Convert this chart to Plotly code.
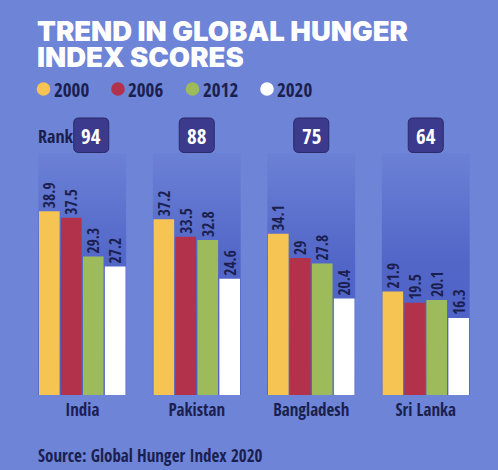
import plotly.graph_objects as go

countries = ["India", "Pakistan", "Bangladesh", "Sri Lanka"]
ranks = ["94", "88", "75", "64"]
years = ["2000", "2006", "2012", "2020"]
scores_2000 = [38.9, 37.2, 34.1, 21.9]
scores_2006 = [37.5, 33.5, 29, 19.5]
scores_2012 = [29.3, 32.8, 27.8, 20.1]
scores_2020 = [27.2, 24.6, 20.4, 16.3]
series = [scores_2000, scores_2006, scores_2012, scores_2020]
colors = ["#f6c453", "#b3324b", "#9dbb5b", "#ffffff"]

BG = "#6d84d7"
NAVY = "#1b1f4f"
COND = "Open Sans Condensed, Roboto, sans-serif"

W, H = 498, 470
L, R, T, B = 25, 15, 153, 75
PW, PH = W - L - R, H - T - B
YMAX = 51.2
BARGAP = 0.233


def px_x(px):
    return (px - L) / PW


def px_y(py):
    return (H - B - py) / PH


def nfont(size, color=NAVY):
    return dict(family=COND, size=size, color=color)


fig = go.Figure()

# gradient panels behind each group (base axes)
half = (1 - BARGAP) / 2
xs = list(range(len(countries)))
for i in xs:
    fig.add_trace(go.Scatter(
        x=[i - half, i + half, i + half, i - half, i - half],
        y=[0, 0, YMAX, YMAX, 0],
        mode="lines", line=dict(width=0), fill="toself",
        fillgradient=dict(type="vertical", start=0, stop=YMAX,
                          colorscale=[[0, "#4d5fc5"], [0.55, "#5266c8"], [1, "#6b81d5"]]),
        hoverinfo="skip", showlegend=False, xaxis="x", yaxis="y",
    ))

# bars on overlay axes so they are drawn above the panels
for name, vals, col in zip(years, series, colors):
    fig.add_trace(go.Bar(
        x=xs, y=vals, name=name, marker=dict(color=col, line=dict(width=0)),
        text=[f"{v:g}" for v in vals], textposition="outside", textangle=-90,
        textfont=nfont(15.5),
        constraintext="none", cliponaxis=False, showlegend=False,
        xaxis="x2", yaxis="y2",
    ))

fig.update_layout(
    width=W, height=H, margin=dict(l=L, r=R, t=T, b=B),
    paper_bgcolor=BG, plot_bgcolor=BG,
    barmode="group", bargap=BARGAP, bargroupgap=0.06,
    xaxis=dict(range=[-0.5, len(countries) - 0.5], tickvals=xs, ticktext=countries,
               showgrid=False, zeroline=False, showline=False, ticks="",
               tickfont=nfont(17), ticklabelstandoff=3, fixedrange=True),
    yaxis=dict(range=[0, YMAX], visible=False, fixedrange=True),
    xaxis2=dict(range=[-0.5, len(countries) - 0.5], overlaying="x", visible=False, fixedrange=True),
    yaxis2=dict(range=[0, YMAX], overlaying="y", visible=False, fixedrange=True),
    showlegend=False,
)

annotations = []
shapes = []

# title (two tight lines)
title_font = dict(family="Inter, Roboto, sans-serif", size=27.5, color="white", weight=900)
annotations.append(dict(text="TREND IN GLOBAL HUNGER", x=px_x(35), y=px_y(31), xref="paper", yref="paper",
                        xanchor="left", yanchor="middle", showarrow=False, font=title_font, height=26))
annotations.append(dict(text="INDEX SCORES", x=px_x(35), y=px_y(57), xref="paper", yref="paper",
                        xanchor="left", yanchor="middle", showarrow=False, font=title_font, height=26))

# legend
for k, (name, col) in enumerate(zip(years, colors)):
    cx = 43.5 + 74.5 * k
    cy = 89
    r = 6.8
    shapes.append(dict(type="circle", xref="paper", yref="paper",
                       x0=px_x(cx - r), x1=px_x(cx + r), y0=px_y(cy + r), y1=px_y(cy - r),
                       fillcolor=col, line=dict(width=0)))
    annotations.append(dict(text=name, x=px_x(cx + 8), y=px_y(cy + 1), xref="paper", yref="paper",
                            xanchor="left", yanchor="middle", showarrow=False, font=nfont(19)))

# rank label and boxes
annotations.append(dict(text="Rank", x=px_x(36), y=px_y(136), xref="paper", yref="paper",
                        xanchor="left", yanchor="middle", showarrow=False, font=nfont(18)))


def rrect(x0, y0, x1, y1, rad):
    def P(px, py):
        return f"{px_x(px):.5f},{px_y(py):.5f}"
    return (f"M {P(x0 + rad, y0)} L {P(x1 - rad, y0)} Q {P(x1, y0)} {P(x1, y0 + rad)} "
            f"L {P(x1, y1 - rad)} Q {P(x1, y1)} {P(x1 - rad, y1)} L {P(x0 + rad, y1)} "
            f"Q {P(x0, y1)} {P(x0, y1 - rad)} L {P(x0, y0 + rad)} Q {P(x0, y0)} {P(x0 + rad, y0)} Z")


for i, rk in enumerate(ranks):
    cx = L + (i + 0.5) * PW / len(countries)
    if i == 0:
        cx += 9
    shapes.append(dict(type="path", xref="paper", yref="paper",
                       path=rrect(cx - 17.5, 118, cx + 17.5, 152.5, 5),
                       fillcolor="#3b3a8c", line=dict(color="#2a2a66", width=1)))
    annotations.append(dict(text=rk, x=px_x(cx), y=px_y(136), xref="paper", yref="paper",
                            xanchor="center", yanchor="middle", showarrow=False,
                            font=nfont(21, color="white")))

# source
annotations.append(dict(text="Source: Global Hunger Index 2020", x=px_x(36), y=px_y(455),
                        xref="paper", yref="paper", xanchor="left", yanchor="middle", showarrow=False,
                        font=nfont(17)))

fig.update_layout(annotations=annotations, shapes=shapes)
fig.write_html("out.html", config={"displayModeBar": False},
               post_script="document.body.style.margin='0';")
